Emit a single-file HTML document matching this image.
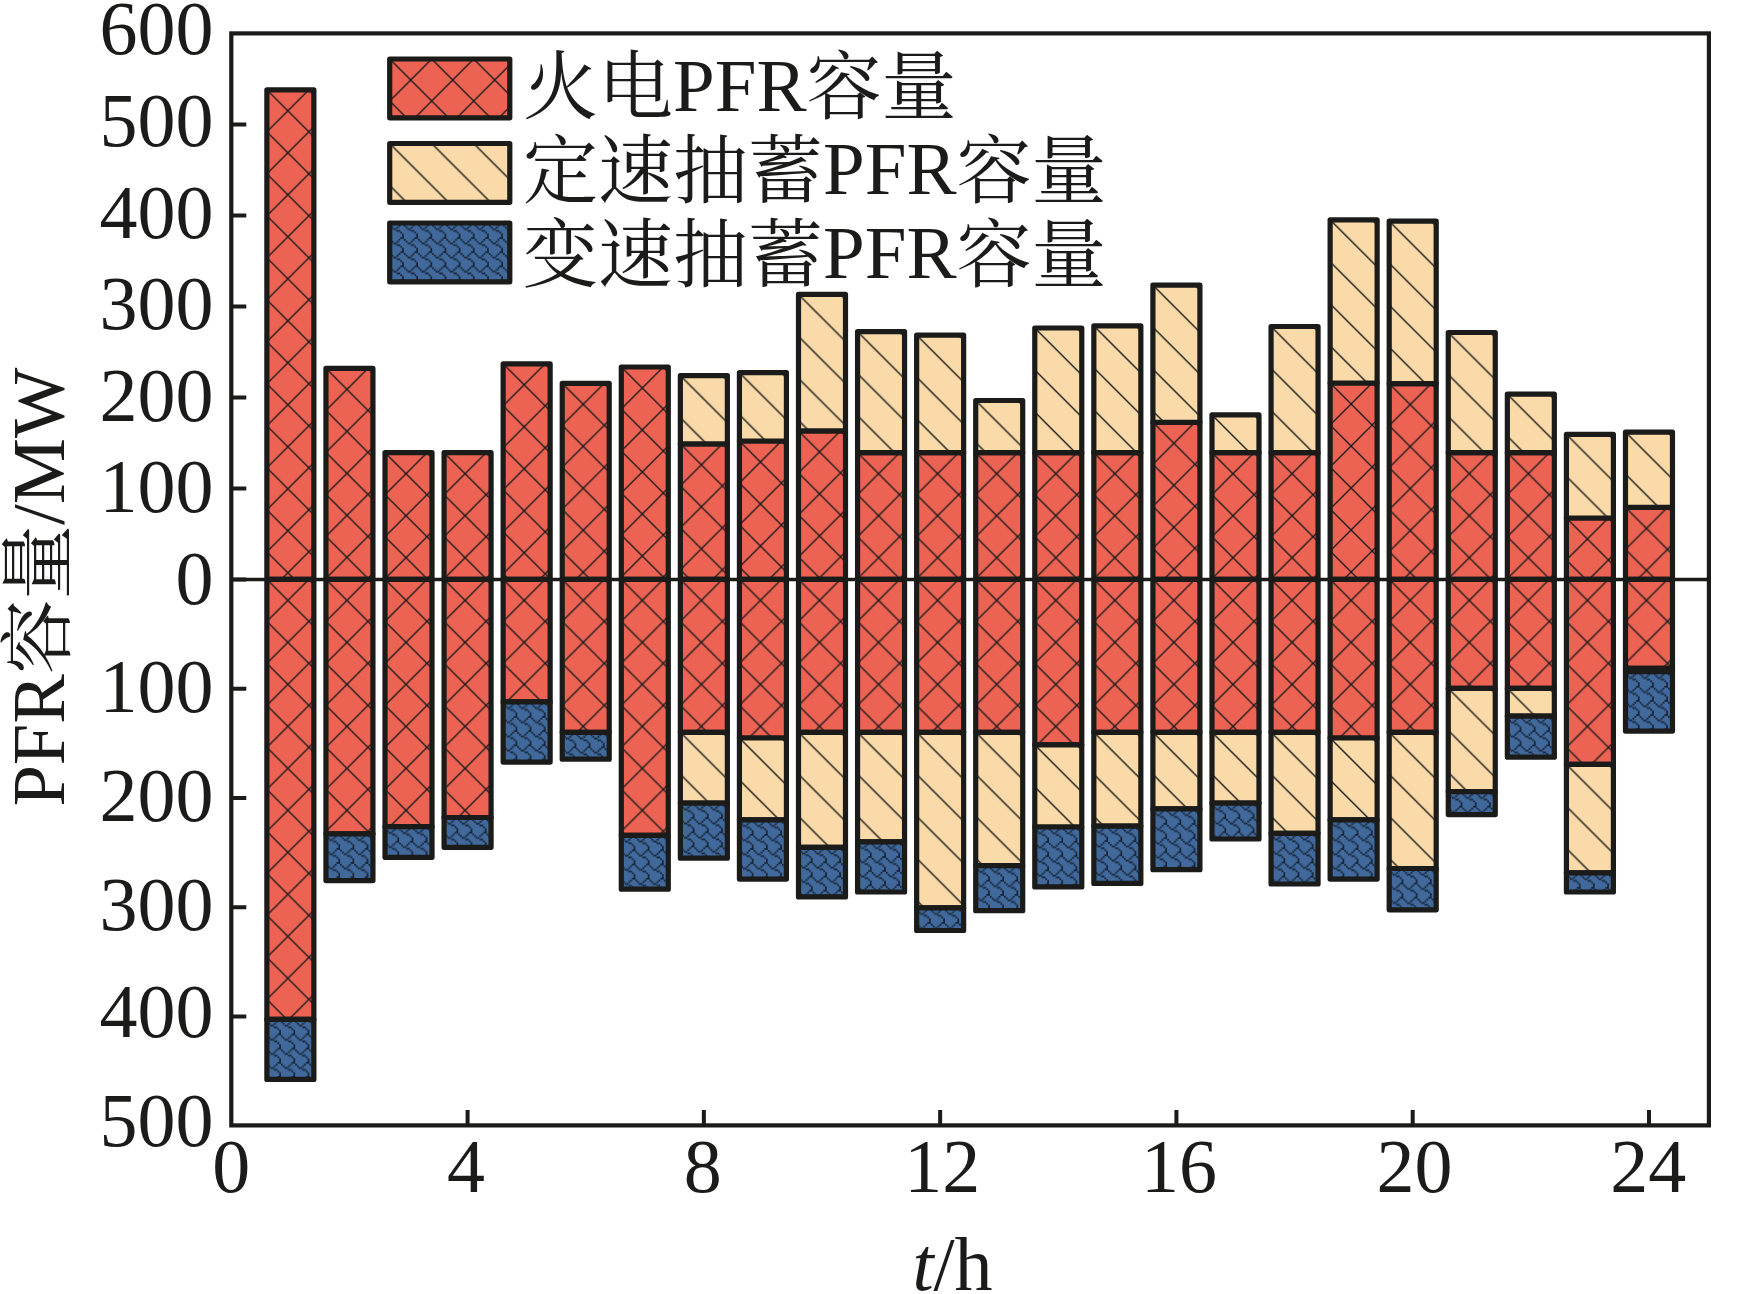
<!DOCTYPE html>
<html lang="zh"><head><meta charset="utf-8"><title>PFR容量</title>
<style>
html,body{margin:0;padding:0;background:#fff}
body{width:1743px;height:1294px;overflow:hidden}
svg{display:block}
text.s{font-size:74.5px}
text.l{font-size:75px}
text{font-family:"Liberation Serif","Noto Serif CJK SC",serif;font-size:76px;fill:#1b1b1a}
</style></head><body>
<svg width="1743" height="1294" viewBox="0 0 1743 1294">
<defs>
<pattern id="pr" x="21" y="0" width="42" height="42" patternUnits="userSpaceOnUse"><rect width="42" height="42" fill="#ec6354"/><path d="M-1 20L22 43M20 -1L43 22M-1 22L22 -1M20 43L43 20" stroke="#1b1b1a" stroke-width="1.35" fill="none"/></pattern>
<pattern id="pb" x="21" y="0" width="42" height="42" patternUnits="userSpaceOnUse"><rect width="42" height="42" fill="#f9daa8"/><path d="M-1 20L22 43M20 -1L43 22" stroke="#1b1b1a" stroke-width="1.4" fill="none"/></pattern>
<pattern id="pu" width="14.16" height="14.16" patternUnits="userSpaceOnUse"><rect width="14.16" height="14.16" fill="#41699b"/><g fill="#0d1724" fill-opacity="0.85"><rect x="10.62" y="0" width="1.77" height="1.77"/><rect x="12.39" y="0" width="1.77" height="1.77"/><rect x="0" y="1.77" width="1.77" height="1.77"/><rect x="8.85" y="1.77" width="1.77" height="1.77"/><rect x="1.77" y="3.54" width="1.77" height="1.77"/><rect x="7.08" y="3.54" width="1.77" height="1.77"/><rect x="3.54" y="5.31" width="1.77" height="1.77"/><rect x="5.31" y="5.31" width="1.77" height="1.77"/><rect x="7.08" y="7.08" width="1.77" height="1.77"/><rect x="8.85" y="7.08" width="1.77" height="1.77"/><rect x="10.62" y="8.85" width="1.77" height="1.77"/><rect x="12.39" y="10.62" width="1.77" height="1.77"/><rect x="12.39" y="12.39" width="1.77" height="1.77"/></g></pattern>
</defs>
<rect width="1743" height="1294" fill="#fff"/>
<g id="bars">
<g transform="translate(266.87 89.8)"><rect width="47" height="489.6" fill="url(#pr)" stroke="#1b1b1a" stroke-width="5.2" stroke-linejoin="round"/></g>
<g transform="translate(266.87 579.4)"><rect width="47" height="440" fill="url(#pr)" stroke="#1b1b1a" stroke-width="5.2" stroke-linejoin="round"/></g>
<g transform="translate(266.87 1019.4)"><rect width="47" height="60" fill="url(#pu)" stroke="#1b1b1a" stroke-width="5.2" stroke-linejoin="round"/></g>
<g transform="translate(325.94 368.4)"><rect width="47" height="211" fill="url(#pr)" stroke="#1b1b1a" stroke-width="5.2" stroke-linejoin="round"/></g>
<g transform="translate(325.94 579.4)"><rect width="47" height="254.4" fill="url(#pr)" stroke="#1b1b1a" stroke-width="5.2" stroke-linejoin="round"/></g>
<g transform="translate(325.94 833.8)"><rect width="47" height="46.8" fill="url(#pu)" stroke="#1b1b1a" stroke-width="5.2" stroke-linejoin="round"/></g>
<g transform="translate(385.01 452.7)"><rect width="47" height="126.7" fill="url(#pr)" stroke="#1b1b1a" stroke-width="5.2" stroke-linejoin="round"/></g>
<g transform="translate(385.01 579.4)"><rect width="47" height="247.3" fill="url(#pr)" stroke="#1b1b1a" stroke-width="5.2" stroke-linejoin="round"/></g>
<g transform="translate(385.01 826.7)"><rect width="47" height="30.6" fill="url(#pu)" stroke="#1b1b1a" stroke-width="5.2" stroke-linejoin="round"/></g>
<g transform="translate(444.08 452.7)"><rect width="47" height="126.7" fill="url(#pr)" stroke="#1b1b1a" stroke-width="5.2" stroke-linejoin="round"/></g>
<g transform="translate(444.08 579.4)"><rect width="47" height="238.1" fill="url(#pr)" stroke="#1b1b1a" stroke-width="5.2" stroke-linejoin="round"/></g>
<g transform="translate(444.08 817.5)"><rect width="47" height="29.8" fill="url(#pu)" stroke="#1b1b1a" stroke-width="5.2" stroke-linejoin="round"/></g>
<g transform="translate(503.15 363.8)"><rect width="47" height="215.6" fill="url(#pr)" stroke="#1b1b1a" stroke-width="5.2" stroke-linejoin="round"/></g>
<g transform="translate(503.15 579.4)"><rect width="47" height="122.5" fill="url(#pr)" stroke="#1b1b1a" stroke-width="5.2" stroke-linejoin="round"/></g>
<g transform="translate(503.15 701.9)"><rect width="47" height="60.2" fill="url(#pu)" stroke="#1b1b1a" stroke-width="5.2" stroke-linejoin="round"/></g>
<g transform="translate(562.22 383.3)"><rect width="47" height="196.1" fill="url(#pr)" stroke="#1b1b1a" stroke-width="5.2" stroke-linejoin="round"/></g>
<g transform="translate(562.22 579.4)"><rect width="47" height="152.9" fill="url(#pr)" stroke="#1b1b1a" stroke-width="5.2" stroke-linejoin="round"/></g>
<g transform="translate(562.22 732.3)"><rect width="47" height="26.9" fill="url(#pu)" stroke="#1b1b1a" stroke-width="5.2" stroke-linejoin="round"/></g>
<g transform="translate(621.29 367)"><rect width="47" height="212.4" fill="url(#pr)" stroke="#1b1b1a" stroke-width="5.2" stroke-linejoin="round"/></g>
<g transform="translate(621.29 579.4)"><rect width="47" height="255.9" fill="url(#pr)" stroke="#1b1b1a" stroke-width="5.2" stroke-linejoin="round"/></g>
<g transform="translate(621.29 835.3)"><rect width="47" height="53.9" fill="url(#pu)" stroke="#1b1b1a" stroke-width="5.2" stroke-linejoin="round"/></g>
<g transform="translate(680.36 443.8)"><rect width="47" height="135.6" fill="url(#pr)" stroke="#1b1b1a" stroke-width="5.2" stroke-linejoin="round"/></g>
<g transform="translate(680.36 375.6)"><rect width="47" height="68.2" fill="url(#pb)" stroke="#1b1b1a" stroke-width="5.2" stroke-linejoin="round"/></g>
<g transform="translate(680.36 579.4)"><rect width="47" height="152.9" fill="url(#pr)" stroke="#1b1b1a" stroke-width="5.2" stroke-linejoin="round"/></g>
<g transform="translate(680.36 732.3)"><rect width="47" height="70.8" fill="url(#pb)" stroke="#1b1b1a" stroke-width="5.2" stroke-linejoin="round"/></g>
<g transform="translate(680.36 803.1)"><rect width="47" height="55.1" fill="url(#pu)" stroke="#1b1b1a" stroke-width="5.2" stroke-linejoin="round"/></g>
<g transform="translate(739.43 441)"><rect width="47" height="138.4" fill="url(#pr)" stroke="#1b1b1a" stroke-width="5.2" stroke-linejoin="round"/></g>
<g transform="translate(739.43 372.7)"><rect width="47" height="68.3" fill="url(#pb)" stroke="#1b1b1a" stroke-width="5.2" stroke-linejoin="round"/></g>
<g transform="translate(739.43 579.4)"><rect width="47" height="158.6" fill="url(#pr)" stroke="#1b1b1a" stroke-width="5.2" stroke-linejoin="round"/></g>
<g transform="translate(739.43 738)"><rect width="47" height="81.8" fill="url(#pb)" stroke="#1b1b1a" stroke-width="5.2" stroke-linejoin="round"/></g>
<g transform="translate(739.43 819.8)"><rect width="47" height="59.3" fill="url(#pu)" stroke="#1b1b1a" stroke-width="5.2" stroke-linejoin="round"/></g>
<g transform="translate(798.5 430.9)"><rect width="47" height="148.5" fill="url(#pr)" stroke="#1b1b1a" stroke-width="5.2" stroke-linejoin="round"/></g>
<g transform="translate(798.5 294.4)"><rect width="47" height="136.5" fill="url(#pb)" stroke="#1b1b1a" stroke-width="5.2" stroke-linejoin="round"/></g>
<g transform="translate(798.5 579.4)"><rect width="47" height="152.9" fill="url(#pr)" stroke="#1b1b1a" stroke-width="5.2" stroke-linejoin="round"/></g>
<g transform="translate(798.5 732.3)"><rect width="47" height="115" fill="url(#pb)" stroke="#1b1b1a" stroke-width="5.2" stroke-linejoin="round"/></g>
<g transform="translate(798.5 847.3)"><rect width="47" height="49.6" fill="url(#pu)" stroke="#1b1b1a" stroke-width="5.2" stroke-linejoin="round"/></g>
<g transform="translate(857.57 452.7)"><rect width="47" height="126.7" fill="url(#pr)" stroke="#1b1b1a" stroke-width="5.2" stroke-linejoin="round"/></g>
<g transform="translate(857.57 331.7)"><rect width="47" height="121" fill="url(#pb)" stroke="#1b1b1a" stroke-width="5.2" stroke-linejoin="round"/></g>
<g transform="translate(857.57 579.4)"><rect width="47" height="152.9" fill="url(#pr)" stroke="#1b1b1a" stroke-width="5.2" stroke-linejoin="round"/></g>
<g transform="translate(857.57 732.3)"><rect width="47" height="109.6" fill="url(#pb)" stroke="#1b1b1a" stroke-width="5.2" stroke-linejoin="round"/></g>
<g transform="translate(857.57 841.9)"><rect width="47" height="50.1" fill="url(#pu)" stroke="#1b1b1a" stroke-width="5.2" stroke-linejoin="round"/></g>
<g transform="translate(916.64 452.7)"><rect width="47" height="126.7" fill="url(#pr)" stroke="#1b1b1a" stroke-width="5.2" stroke-linejoin="round"/></g>
<g transform="translate(916.64 335.1)"><rect width="47" height="117.6" fill="url(#pb)" stroke="#1b1b1a" stroke-width="5.2" stroke-linejoin="round"/></g>
<g transform="translate(916.64 579.4)"><rect width="47" height="152.9" fill="url(#pr)" stroke="#1b1b1a" stroke-width="5.2" stroke-linejoin="round"/></g>
<g transform="translate(916.64 732.3)"><rect width="47" height="175.5" fill="url(#pb)" stroke="#1b1b1a" stroke-width="5.2" stroke-linejoin="round"/></g>
<g transform="translate(916.64 907.8)"><rect width="47" height="22.7" fill="url(#pu)" stroke="#1b1b1a" stroke-width="5.2" stroke-linejoin="round"/></g>
<g transform="translate(975.71 452.7)"><rect width="47" height="126.7" fill="url(#pr)" stroke="#1b1b1a" stroke-width="5.2" stroke-linejoin="round"/></g>
<g transform="translate(975.71 400.5)"><rect width="47" height="52.2" fill="url(#pb)" stroke="#1b1b1a" stroke-width="5.2" stroke-linejoin="round"/></g>
<g transform="translate(975.71 579.4)"><rect width="47" height="152.9" fill="url(#pr)" stroke="#1b1b1a" stroke-width="5.2" stroke-linejoin="round"/></g>
<g transform="translate(975.71 732.3)"><rect width="47" height="133.4" fill="url(#pb)" stroke="#1b1b1a" stroke-width="5.2" stroke-linejoin="round"/></g>
<g transform="translate(975.71 865.7)"><rect width="47" height="45" fill="url(#pu)" stroke="#1b1b1a" stroke-width="5.2" stroke-linejoin="round"/></g>
<g transform="translate(1034.78 452.7)"><rect width="47" height="126.7" fill="url(#pr)" stroke="#1b1b1a" stroke-width="5.2" stroke-linejoin="round"/></g>
<g transform="translate(1034.78 328)"><rect width="47" height="124.7" fill="url(#pb)" stroke="#1b1b1a" stroke-width="5.2" stroke-linejoin="round"/></g>
<g transform="translate(1034.78 579.4)"><rect width="47" height="165.5" fill="url(#pr)" stroke="#1b1b1a" stroke-width="5.2" stroke-linejoin="round"/></g>
<g transform="translate(1034.78 744.9)"><rect width="47" height="82.1" fill="url(#pb)" stroke="#1b1b1a" stroke-width="5.2" stroke-linejoin="round"/></g>
<g transform="translate(1034.78 827)"><rect width="47" height="59.9" fill="url(#pu)" stroke="#1b1b1a" stroke-width="5.2" stroke-linejoin="round"/></g>
<g transform="translate(1093.85 452.7)"><rect width="47" height="126.7" fill="url(#pr)" stroke="#1b1b1a" stroke-width="5.2" stroke-linejoin="round"/></g>
<g transform="translate(1093.85 325.9)"><rect width="47" height="126.8" fill="url(#pb)" stroke="#1b1b1a" stroke-width="5.2" stroke-linejoin="round"/></g>
<g transform="translate(1093.85 579.4)"><rect width="47" height="152.9" fill="url(#pr)" stroke="#1b1b1a" stroke-width="5.2" stroke-linejoin="round"/></g>
<g transform="translate(1093.85 732.3)"><rect width="47" height="93.8" fill="url(#pb)" stroke="#1b1b1a" stroke-width="5.2" stroke-linejoin="round"/></g>
<g transform="translate(1093.85 826.1)"><rect width="47" height="57.3" fill="url(#pu)" stroke="#1b1b1a" stroke-width="5.2" stroke-linejoin="round"/></g>
<g transform="translate(1152.92 422.3)"><rect width="47" height="157.1" fill="url(#pr)" stroke="#1b1b1a" stroke-width="5.2" stroke-linejoin="round"/></g>
<g transform="translate(1152.92 285.2)"><rect width="47" height="137.1" fill="url(#pb)" stroke="#1b1b1a" stroke-width="5.2" stroke-linejoin="round"/></g>
<g transform="translate(1152.92 579.4)"><rect width="47" height="152.9" fill="url(#pr)" stroke="#1b1b1a" stroke-width="5.2" stroke-linejoin="round"/></g>
<g transform="translate(1152.92 732.3)"><rect width="47" height="76.6" fill="url(#pb)" stroke="#1b1b1a" stroke-width="5.2" stroke-linejoin="round"/></g>
<g transform="translate(1152.92 808.9)"><rect width="47" height="60.8" fill="url(#pu)" stroke="#1b1b1a" stroke-width="5.2" stroke-linejoin="round"/></g>
<g transform="translate(1211.99 452.7)"><rect width="47" height="126.7" fill="url(#pr)" stroke="#1b1b1a" stroke-width="5.2" stroke-linejoin="round"/></g>
<g transform="translate(1211.99 414.9)"><rect width="47" height="37.8" fill="url(#pb)" stroke="#1b1b1a" stroke-width="5.2" stroke-linejoin="round"/></g>
<g transform="translate(1211.99 579.4)"><rect width="47" height="152.9" fill="url(#pr)" stroke="#1b1b1a" stroke-width="5.2" stroke-linejoin="round"/></g>
<g transform="translate(1211.99 732.3)"><rect width="47" height="70.8" fill="url(#pb)" stroke="#1b1b1a" stroke-width="5.2" stroke-linejoin="round"/></g>
<g transform="translate(1211.99 803.1)"><rect width="47" height="35.9" fill="url(#pu)" stroke="#1b1b1a" stroke-width="5.2" stroke-linejoin="round"/></g>
<g transform="translate(1271.06 452.7)"><rect width="47" height="126.7" fill="url(#pr)" stroke="#1b1b1a" stroke-width="5.2" stroke-linejoin="round"/></g>
<g transform="translate(1271.06 326.5)"><rect width="47" height="126.2" fill="url(#pb)" stroke="#1b1b1a" stroke-width="5.2" stroke-linejoin="round"/></g>
<g transform="translate(1271.06 579.4)"><rect width="47" height="152.9" fill="url(#pr)" stroke="#1b1b1a" stroke-width="5.2" stroke-linejoin="round"/></g>
<g transform="translate(1271.06 732.3)"><rect width="47" height="101" fill="url(#pb)" stroke="#1b1b1a" stroke-width="5.2" stroke-linejoin="round"/></g>
<g transform="translate(1271.06 833.3)"><rect width="47" height="50.7" fill="url(#pu)" stroke="#1b1b1a" stroke-width="5.2" stroke-linejoin="round"/></g>
<g transform="translate(1330.13 383)"><rect width="47" height="196.4" fill="url(#pr)" stroke="#1b1b1a" stroke-width="5.2" stroke-linejoin="round"/></g>
<g transform="translate(1330.13 219.8)"><rect width="47" height="163.2" fill="url(#pb)" stroke="#1b1b1a" stroke-width="5.2" stroke-linejoin="round"/></g>
<g transform="translate(1330.13 579.4)"><rect width="47" height="158.6" fill="url(#pr)" stroke="#1b1b1a" stroke-width="5.2" stroke-linejoin="round"/></g>
<g transform="translate(1330.13 738)"><rect width="47" height="81.8" fill="url(#pb)" stroke="#1b1b1a" stroke-width="5.2" stroke-linejoin="round"/></g>
<g transform="translate(1330.13 819.8)"><rect width="47" height="59.3" fill="url(#pu)" stroke="#1b1b1a" stroke-width="5.2" stroke-linejoin="round"/></g>
<g transform="translate(1389.2 383.6)"><rect width="47" height="195.8" fill="url(#pr)" stroke="#1b1b1a" stroke-width="5.2" stroke-linejoin="round"/></g>
<g transform="translate(1389.2 221.2)"><rect width="47" height="162.4" fill="url(#pb)" stroke="#1b1b1a" stroke-width="5.2" stroke-linejoin="round"/></g>
<g transform="translate(1389.2 579.4)"><rect width="47" height="152.9" fill="url(#pr)" stroke="#1b1b1a" stroke-width="5.2" stroke-linejoin="round"/></g>
<g transform="translate(1389.2 732.3)"><rect width="47" height="136.2" fill="url(#pb)" stroke="#1b1b1a" stroke-width="5.2" stroke-linejoin="round"/></g>
<g transform="translate(1389.2 868.5)"><rect width="47" height="41.3" fill="url(#pu)" stroke="#1b1b1a" stroke-width="5.2" stroke-linejoin="round"/></g>
<g transform="translate(1448.27 452.7)"><rect width="47" height="126.7" fill="url(#pr)" stroke="#1b1b1a" stroke-width="5.2" stroke-linejoin="round"/></g>
<g transform="translate(1448.27 332.5)"><rect width="47" height="120.2" fill="url(#pb)" stroke="#1b1b1a" stroke-width="5.2" stroke-linejoin="round"/></g>
<g transform="translate(1448.27 579.4)"><rect width="47" height="109" fill="url(#pr)" stroke="#1b1b1a" stroke-width="5.2" stroke-linejoin="round"/></g>
<g transform="translate(1448.27 688.4)"><rect width="47" height="103.3" fill="url(#pb)" stroke="#1b1b1a" stroke-width="5.2" stroke-linejoin="round"/></g>
<g transform="translate(1448.27 791.7)"><rect width="47" height="22.9" fill="url(#pu)" stroke="#1b1b1a" stroke-width="5.2" stroke-linejoin="round"/></g>
<g transform="translate(1507.34 452.7)"><rect width="47" height="126.7" fill="url(#pr)" stroke="#1b1b1a" stroke-width="5.2" stroke-linejoin="round"/></g>
<g transform="translate(1507.34 394.2)"><rect width="47" height="58.5" fill="url(#pb)" stroke="#1b1b1a" stroke-width="5.2" stroke-linejoin="round"/></g>
<g transform="translate(1507.34 579.4)"><rect width="47" height="109" fill="url(#pr)" stroke="#1b1b1a" stroke-width="5.2" stroke-linejoin="round"/></g>
<g transform="translate(1507.34 688.4)"><rect width="47" height="27.8" fill="url(#pb)" stroke="#1b1b1a" stroke-width="5.2" stroke-linejoin="round"/></g>
<g transform="translate(1507.34 716.2)"><rect width="47" height="41" fill="url(#pu)" stroke="#1b1b1a" stroke-width="5.2" stroke-linejoin="round"/></g>
<g transform="translate(1566.41 518)"><rect width="47" height="61.4" fill="url(#pr)" stroke="#1b1b1a" stroke-width="5.2" stroke-linejoin="round"/></g>
<g transform="translate(1566.41 434.4)"><rect width="47" height="83.6" fill="url(#pb)" stroke="#1b1b1a" stroke-width="5.2" stroke-linejoin="round"/></g>
<g transform="translate(1566.41 579.4)"><rect width="47" height="185" fill="url(#pr)" stroke="#1b1b1a" stroke-width="5.2" stroke-linejoin="round"/></g>
<g transform="translate(1566.41 764.4)"><rect width="47" height="108.5" fill="url(#pb)" stroke="#1b1b1a" stroke-width="5.2" stroke-linejoin="round"/></g>
<g transform="translate(1566.41 872.9)"><rect width="47" height="19.1" fill="url(#pu)" stroke="#1b1b1a" stroke-width="5.2" stroke-linejoin="round"/></g>
<g transform="translate(1625.48 507.4)"><rect width="47" height="72" fill="url(#pr)" stroke="#1b1b1a" stroke-width="5.2" stroke-linejoin="round"/></g>
<g transform="translate(1625.48 432.1)"><rect width="47" height="75.3" fill="url(#pb)" stroke="#1b1b1a" stroke-width="5.2" stroke-linejoin="round"/></g>
<g transform="translate(1625.48 579.4)"><rect width="47" height="88.9" fill="url(#pr)" stroke="#1b1b1a" stroke-width="5.2" stroke-linejoin="round"/></g>
<g transform="translate(1625.48 668.3)"><rect width="47" height="3.4" fill="url(#pb)" stroke="#1b1b1a" stroke-width="5.2" stroke-linejoin="round"/></g>
<g transform="translate(1625.48 671.7)"><rect width="47" height="59.4" fill="url(#pu)" stroke="#1b1b1a" stroke-width="5.2" stroke-linejoin="round"/></g>
</g>
<g id="axes">
<rect x="231.3" y="33.4" width="1477.6" height="1092" fill="none" stroke="#1b1b1a" stroke-width="4.2"/>
<path d="M231.3 579.4H1708.9" stroke="#1b1b1a" stroke-width="3.5"/>
<path d="M231.3 488.4h15M231.3 397.4h15M231.3 306.4h15M231.3 215.4h15M231.3 124.4h15M231.3 688.7h15M231.3 798h15M231.3 907.3h15M231.3 1016.6h15M231.3 579.4h15M467.58 1125.4v-15.5M703.86 1125.4v-15.5M940.14 1125.4v-15.5M1176.42 1125.4v-15.5M1412.7 1125.4v-15.5M1648.98 1125.4v-15.5" stroke="#1b1b1a" stroke-width="4" fill="none"/>
</g>
<g id="legend">
<g transform="translate(389.7 59)"><rect width="120.1" height="58.8" fill="url(#pr)" stroke="#1b1b1a" stroke-width="5.2" stroke-linejoin="round"/></g>
<g transform="translate(389.7 143.5)"><rect width="120.1" height="58.8" fill="url(#pb)" stroke="#1b1b1a" stroke-width="5.2" stroke-linejoin="round"/></g>
<g transform="translate(389.7 223)"><rect width="120.1" height="58.8" fill="url(#pu)" stroke="#1b1b1a" stroke-width="5.2" stroke-linejoin="round"/></g>
</g>
<g id="labels">
<text x="213.6" y="54.4" text-anchor="end">600</text>
<text x="213.6" y="146" text-anchor="end">500</text>
<text x="213.6" y="237.6" text-anchor="end">400</text>
<text x="213.6" y="329.1" text-anchor="end">300</text>
<text x="213.6" y="420.6" text-anchor="end">200</text>
<text x="213.6" y="512.3" text-anchor="end">100</text>
<text x="213.6" y="603.9" text-anchor="end">0</text>
<text x="213.6" y="712" text-anchor="end">100</text>
<text x="213.6" y="820.9" text-anchor="end">200</text>
<text x="213.6" y="929.8" text-anchor="end">300</text>
<text x="213.6" y="1037.3" text-anchor="end">400</text>
<text x="213.6" y="1145.9" text-anchor="end">500</text>
<text x="231.3" y="1192" text-anchor="middle">0</text>
<text x="466.08" y="1192" text-anchor="middle">4</text>
<text x="702.86" y="1192" text-anchor="middle">8</text>
<text x="942.14" y="1192" text-anchor="middle">12</text>
<text x="1178.92" y="1192" text-anchor="middle">16</text>
<text x="1414.5" y="1192" text-anchor="middle">20</text>
<text x="1648.18" y="1192" text-anchor="middle">24</text>
<text x="952.5" y="1289.7" text-anchor="middle"><tspan font-style="italic">t</tspan>/h</text>
<text transform="translate(64 587.2) rotate(-90)" text-anchor="middle" class="s">PFR容量/MW</text>
<text x="523" y="111" class="l"><tspan dy="2.3">火电</tspan><tspan dy="-2.3">PFR</tspan><tspan dy="2.3">容量</tspan></text>
<text x="523" y="194.2" class="l"><tspan dy="2.3">定速抽蓄</tspan><tspan dy="-2.3">PFR</tspan><tspan dy="2.3">容量</tspan></text>
<text x="523" y="278.2" class="l"><tspan dy="2.3">变速抽蓄</tspan><tspan dy="-2.3">PFR</tspan><tspan dy="2.3">容量</tspan></text>
</g>
</svg>
</body></html>
